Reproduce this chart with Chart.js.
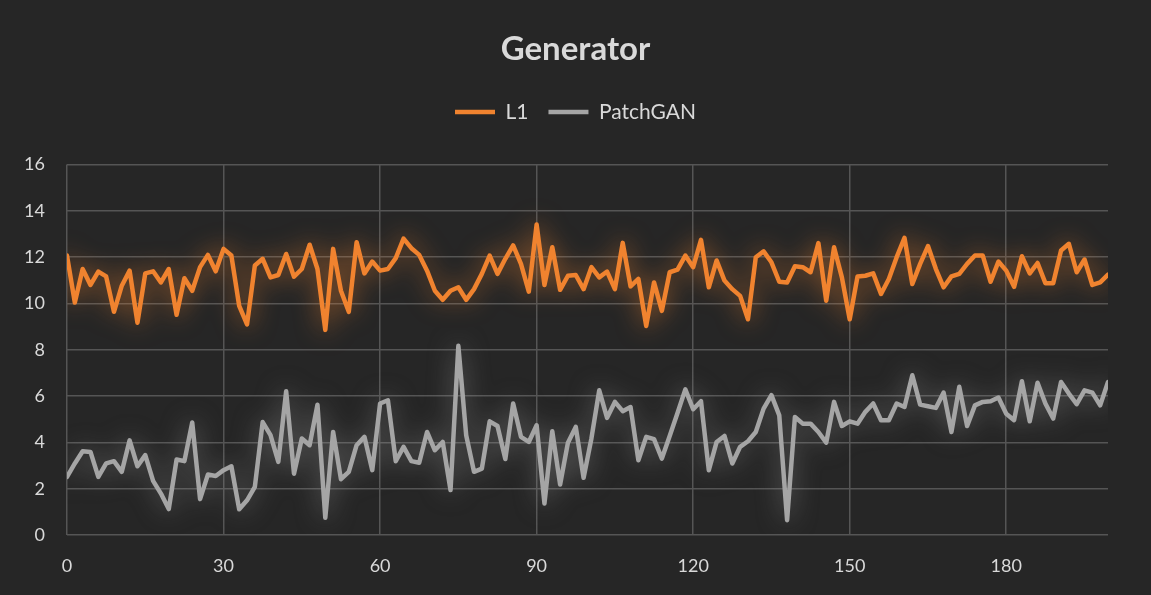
<!DOCTYPE html>
<html>
<head>
<meta charset="utf-8">
<script src="https://cdn.jsdelivr.net/npm/chart.js@4/dist/chart.umd.min.js"></script>
<style>
  html, body { margin: 0; padding: 0; background: #262626; }
  #wrap { width: 1151px; height: 595px; position: relative; }
</style>
</head>
<body>
<div id="wrap"><canvas id="genChart" width="1151" height="595"></canvas></div>
<script>
// one sample every 1.5 epochs, 134 samples (0 .. 199.5)
const sampleStep = 1.5;

// L1 loss
const l1Loss = [
  12.07, 10.04, 11.49, 10.8, 11.38, 11.17, 9.64, 10.77, 11.42, 9.17,
  11.3, 11.39, 10.91, 11.49, 9.51, 11.09, 10.55, 11.57, 12.1, 11.39,
  12.36, 12.07, 9.9, 9.1, 11.64, 11.93, 11.13, 11.23, 12.14, 11.16,
  11.49, 12.54, 11.49, 8.86, 12.36, 10.55, 9.64, 12.65, 11.3, 11.81,
  11.42, 11.49, 11.96, 12.8, 12.39, 12.1, 11.42, 10.55, 10.16, 10.55,
  10.7, 10.16, 10.62, 11.28, 12.07, 11.28, 11.93, 12.51, 11.71, 10.51,
  13.41, 10.8, 12.43, 10.59, 11.2, 11.23, 10.62, 11.57, 11.13, 11.38,
  10.62, 12.62, 10.74, 11.06, 9.03, 10.91, 9.68, 11.35, 11.46, 12.07,
  11.57, 12.75, 10.7, 11.86, 10.99, 10.62, 10.33, 9.32, 12.0, 12.25,
  11.78, 10.94, 10.91, 11.61, 11.57, 11.35, 12.61, 10.12, 12.43, 11.13,
  9.32, 11.17, 11.2, 11.3, 10.41, 11.06, 12.0, 12.84, 10.84, 11.71,
  12.48, 11.5, 10.7, 11.17, 11.28, 11.71, 12.07, 12.07, 10.94, 11.81,
  11.42, 10.72, 12.04, 11.3, 11.75, 10.88, 10.88, 12.29, 12.58, 11.35,
  11.9, 10.8, 10.91, 11.25
];

// PatchGAN loss
const patchGanLoss = [
  2.51, 3.09, 3.62, 3.59, 2.51, 3.09, 3.19, 2.73, 4.09, 2.97,
  3.45, 2.34, 1.79, 1.12, 3.26, 3.19, 4.86, 1.55, 2.61, 2.55,
  2.8, 2.97, 1.11, 1.5, 2.08, 4.88, 4.31, 3.16, 6.21, 2.65,
  4.17, 3.88, 5.63, 0.74, 4.45, 2.41, 2.73, 3.88, 4.24, 2.8,
  5.68, 5.82, 3.19, 3.81, 3.19, 3.12, 4.45, 3.66, 4.02, 1.94,
  8.17, 4.31, 2.73, 2.87, 4.91, 4.71, 3.28, 5.68, 4.24, 4.02,
  4.74, 1.36, 4.48, 2.18, 3.99, 4.67, 2.47, 4.17, 6.25, 5.06,
  5.75, 5.35, 5.53, 3.23, 4.24, 4.14, 3.3, 4.28, 5.27, 6.29,
  5.43, 5.78, 2.8, 4.02, 4.28, 3.09, 3.81, 4.05, 4.45, 5.46,
  6.04, 5.17, 0.64, 5.1, 4.81, 4.81, 4.45, 3.99, 5.75, 4.71,
  4.91, 4.81, 5.32, 5.68, 4.96, 4.96, 5.68, 5.53, 6.9, 5.63,
  5.56, 5.49, 6.15, 4.45, 6.4, 4.71, 5.6, 5.75, 5.78, 5.94,
  5.24, 4.96, 6.64, 4.91, 6.58, 5.68, 5.03, 6.61, 6.11, 5.65,
  6.25, 6.15, 5.6, 6.61
];

const xTickValues = [0, 30, 60, 90, 120, 150, 180];
const yTickValues = [0, 2, 4, 6, 8, 10, 12, 14, 16];

const textColor = '#d9d9d9';
const gridColor = '#555555';
const orange = '#f0832f';
const grey = '#a5a5a5';

// turn the y arrays into points on the epoch axis
const toPoints = (arr) => arr.map((v, i) => ({ x: i * sampleStep, y: v }));

// soft glow behind each line, like the office "glow" effect
const glowPlugin = {
  id: 'glow',
  beforeDatasetDraw(chart, args) {
    const ds = chart.data.datasets[args.index];
    chart.ctx.save();
    chart.ctx.shadowColor = ds.glowColor;
    chart.ctx.shadowBlur = 24;
  },
  afterDatasetDraw(chart) {
    chart.ctx.restore();
  }
};

// leave some room under the legend before the plot starts
const legendGap = {
  id: 'legendGap',
  beforeLayout(chart) {
    const lg = chart.legend;
    if (lg && !lg._gapPatched) {
      const fit = lg.fit.bind(lg);
      lg.fit = function () { fit(); this.height += 32; };
      lg._gapPatched = true;
    }
  }
};

new Chart('genChart', {
  type: 'line',
  data: {
    datasets: [
      {
        label: 'L1',
        data: toPoints(l1Loss),
        borderColor: orange,
        backgroundColor: orange,
        glowColor: 'rgba(240,131,47,0.7)',
        borderWidth: 4.5,
        borderJoinStyle: 'round',
        borderCapStyle: 'round',
        pointRadius: 0,
        tension: 0
      },
      {
        label: 'PatchGAN',
        data: toPoints(patchGanLoss),
        borderColor: grey,
        backgroundColor: grey,
        glowColor: 'rgba(165,165,165,0.55)',
        borderWidth: 4.5,
        borderJoinStyle: 'round',
        borderCapStyle: 'round',
        pointRadius: 0,
        tension: 0
      }
    ]
  },
  plugins: [glowPlugin, legendGap],
  options: {
    responsive: false,
    animation: false,
    layout: { padding: 0 },
    plugins: {
      title: {
        display: true,
        text: 'Generator',
        color: textColor,
        font: { family: 'Lato', size: 33, weight: 'bold' },
        padding: { top: 30, bottom: 12 }
      },
      legend: {
        display: true,
        labels: {
          color: textColor,
          font: { family: 'Lato', size: 21 },
          usePointStyle: true,
          pointStyle: 'line',
          pointStyleWidth: 40,
          padding: 20
        }
      },
      tooltip: { enabled: false }
    },
    scales: {
      x: {
        type: 'linear',
        min: 0,
        max: (l1Loss.length - 1) * sampleStep,
        afterBuildTicks: (s) => { s.ticks = xTickValues.map(v => ({ value: v })); },
        afterFit: (s) => { s.height = 60; },
        grid: { color: gridColor, lineWidth: 1.5, drawTicks: false },
        border: { display: false },
        ticks: {
          color: textColor,
          font: { family: 'Lato', size: 18 },
          padding: 20,
          maxRotation: 0
        }
      },
      y: {
        min: 0,
        max: 16,
        afterBuildTicks: (s) => { s.ticks = yTickValues.map(v => ({ value: v })); },
        afterFit: (s) => { s.width = 67; },
        grid: { color: gridColor, lineWidth: 1.5, drawTicks: false },
        border: { display: false },
        ticks: {
          color: textColor,
          font: { family: 'Lato', size: 18 },
          padding: 22
        }
      },
      // empty axis on the right, only to keep the right margin
      yRight: {
        position: 'right',
        afterFit: (s) => { s.width = 43; },
        grid: { display: false },
        border: { display: false },
        ticks: { display: false }
      }
    }
  }
});
</script>
</body>
</html>
